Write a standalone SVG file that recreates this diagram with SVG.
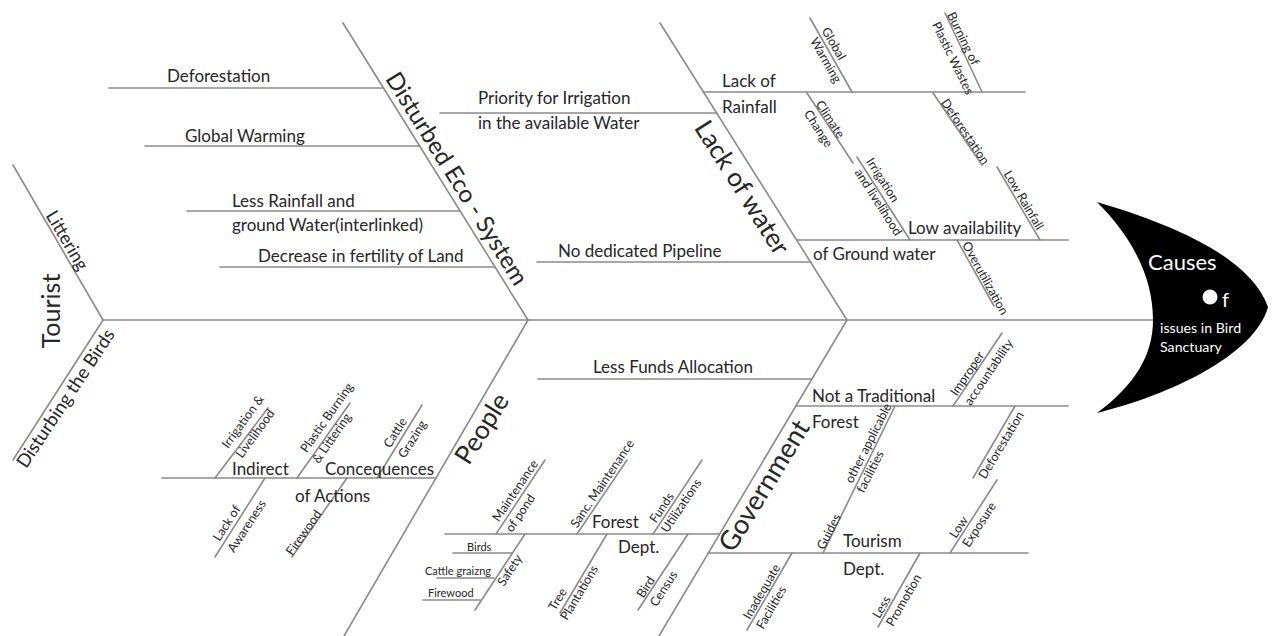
<svg xmlns="http://www.w3.org/2000/svg" width="1278" height="636" viewBox="0 0 1278 636">
<style>
.ln{stroke:#8a8a8a;stroke-width:1.6;fill:none;stroke-linecap:round}
text{font-family:Lato,"Liberation Sans",sans-serif;fill:#262626}
.m{font-size:17px}
.s{font-size:12.5px}
.xs{font-size:11px}
.l{font-size:26px}
.r{text-anchor:middle;dominant-baseline:central}
.w{fill:#fff}
</style>
<rect width="1278" height="636" fill="#fff"/>
<g id="connectors">
<line class="ln" x1="103" y1="320" x2="1153" y2="320"/>
<line class="ln" x1="13" y1="165" x2="103" y2="320"/>
<line class="ln" x1="103" y1="320" x2="13" y2="460"/>
<line class="ln" x1="343" y1="23" x2="528" y2="320"/>
<line class="ln" x1="660" y1="23" x2="847" y2="320"/>
<line class="ln" x1="528" y1="320" x2="344" y2="636"/>
<line class="ln" x1="847" y1="320" x2="659" y2="636"/>
<line class="ln" x1="109" y1="88" x2="383" y2="88"/>
<line class="ln" x1="145" y1="146" x2="420" y2="146"/>
<line class="ln" x1="187" y1="211" x2="460" y2="211"/>
<line class="ln" x1="220" y1="267" x2="495" y2="267"/>
<line class="ln" x1="440" y1="113" x2="717" y2="113"/>
<line class="ln" x1="537" y1="262" x2="811" y2="262"/>
<line class="ln" x1="703" y1="92" x2="1025" y2="92"/>
<line class="ln" x1="797" y1="240" x2="1068" y2="240"/>
<line class="ln" x1="810" y1="18" x2="852" y2="92"/>
<line class="ln" x1="945" y1="13" x2="982" y2="92"/>
<line class="ln" x1="807" y1="93" x2="853" y2="163"/>
<line class="ln" x1="933" y1="93" x2="982" y2="165"/>
<line class="ln" x1="857" y1="157" x2="910" y2="240"/>
<line class="ln" x1="997" y1="167" x2="1040" y2="240"/>
<line class="ln" x1="957" y1="240" x2="994" y2="306"/>
<line class="ln" x1="162" y1="478" x2="436" y2="478"/>
<line class="ln" x1="215" y1="478" x2="268" y2="408"/>
<line class="ln" x1="297" y1="478" x2="350" y2="403"/>
<line class="ln" x1="377" y1="478" x2="422" y2="405"/>
<line class="ln" x1="265" y1="478" x2="215" y2="557"/>
<line class="ln" x1="347" y1="478" x2="292" y2="557"/>
<line class="ln" x1="445" y1="534" x2="719" y2="534"/>
<line class="ln" x1="496" y1="534" x2="545" y2="460"/>
<line class="ln" x1="577" y1="534" x2="627" y2="460"/>
<line class="ln" x1="653" y1="534" x2="702" y2="460"/>
<line class="ln" x1="525" y1="534" x2="475" y2="610"/>
<line class="ln" x1="453" y1="553" x2="512" y2="553"/>
<line class="ln" x1="437" y1="578" x2="494" y2="578"/>
<line class="ln" x1="423" y1="600" x2="480" y2="600"/>
<line class="ln" x1="607" y1="534" x2="560" y2="613"/>
<line class="ln" x1="688" y1="534" x2="638" y2="610"/>
<line class="ln" x1="538" y1="379" x2="812" y2="379"/>
<line class="ln" x1="796" y1="406" x2="1068" y2="406"/>
<line class="ln" x1="953" y1="406" x2="1002" y2="333"/>
<line class="ln" x1="895" y1="406" x2="823" y2="553"/>
<line class="ln" x1="1015" y1="406" x2="973" y2="478"/>
<line class="ln" x1="708" y1="553" x2="1028" y2="553"/>
<line class="ln" x1="950" y1="553" x2="997" y2="480"/>
<line class="ln" x1="792" y1="553" x2="747" y2="630"/>
<line class="ln" x1="920" y1="553" x2="878" y2="627"/>
</g>
<g id="head">
<path d="M1097,202 C1165,222 1250,255 1268,307 C1255,355 1170,395 1097,413 C1135,385 1153,355 1153,320 C1153,280 1135,240 1097,202 Z" fill="#000"/>
<text class="w" x="1148" y="270" font-size="22">Causes</text>
<circle cx="1210" cy="297" r="7.5" fill="#fff"/>
<text class="w" x="1222" y="307" font-size="20">f</text>
<text class="w" x="1160" y="333" font-size="14.2">issues in Bird</text>
<text class="w" x="1160" y="352" font-size="14.2">Sanctuary</text>
</g>
<g id="tourist">
<text class="r" transform="translate(49.5,311) rotate(-90)" font-size="25">Tourist</text>
<text class="r" transform="translate(68,240) rotate(59.5)" font-size="18">Littering</text>
<text class="r" transform="translate(65,398) rotate(-56.5)" font-size="18.5">Disturbing the Birds</text>
</g>
<g id="disturbed-eco-system">
<text class="r l" transform="translate(458,178) rotate(58)" style="font-size:24px">Disturbed Eco - System</text>
<text class="m" x="167" y="82">Deforestation</text>
<text class="m" x="185" y="142">Global Warming</text>
<text class="m" x="232" y="207">Less Rainfall and</text>
<text class="m" x="232" y="231">ground Water(interlinked)</text>
<text class="m" x="258" y="262">Decrease in fertility of Land</text>
</g>
<g id="lack-of-water">
<text class="r l" transform="translate(743,187) rotate(57.6)">Lack of water</text>
<text class="m" x="478" y="104">Priority for Irrigation</text>
<text class="m" x="478" y="129">in the available Water</text>
<text class="m" x="558" y="257">No dedicated Pipeline</text>
<text class="m" x="722" y="87">Lack of</text>
<text class="m" x="722" y="113">Rainfall</text>
<text class="m" x="908" y="234">Low availability</text>
<text class="m" x="813" y="260">of Ground water</text>
<text class="r s" transform="translate(834,43.5) rotate(60)">Global</text>
<text class="r s" transform="translate(826,60) rotate(60)">Warming</text>
<text class="r s" transform="translate(963.5,38.5) rotate(64)">Burning of</text>
<text class="r s" transform="translate(953,58) rotate(64)">Plastic Wastes</text>
<text class="r s" transform="translate(830.5,119) rotate(57)">Climate</text>
<text class="r s" transform="translate(818.5,128.5) rotate(57)">Change</text>
<text class="r s" transform="translate(965.5,131.5) rotate(56)">Deforestation</text>
<text class="r s" transform="translate(883,180) rotate(57.5)">Irrigation</text>
<text class="r s" transform="translate(878.5,202) rotate(57.5)">and livelihood</text>
<text class="r s" transform="translate(1024,200) rotate(59.5)">Low Rainfall</text>
<text class="r s" transform="translate(985.5,278) rotate(61)">Overutilization</text>
</g>
<g id="people">
<text class="r l" transform="translate(481,428) rotate(-58)">People</text>
<text class="m" x="232" y="475">Indirect</text>
<text class="m" x="325" y="475">Concequences</text>
<text class="m" x="295" y="502">of Actions</text>
<text class="r s" transform="translate(242.5,421.5) rotate(-54)">Irrigation &amp;</text>
<text class="r s" transform="translate(255,433.5) rotate(-54)">Livelihood</text>
<text class="r s" transform="translate(326.5,417.5) rotate(-55)">Plastic Burning</text>
<text class="r s" transform="translate(331.5,438) rotate(-55)">&amp; Littering</text>
<text class="r s" transform="translate(395,432.5) rotate(-58)">Cattle</text>
<text class="r s" transform="translate(412,439) rotate(-58)">Grazing</text>
<text class="r s" transform="translate(226.5,523) rotate(-57)">Lack of</text>
<text class="r s" transform="translate(246.5,526) rotate(-57)">Awareness</text>
<text class="r s" transform="translate(303.5,532.5) rotate(-55)">Firewood</text>
</g>
<g id="government">
<text class="r l" transform="translate(763,485) rotate(-58.5)" style="font-size:27px">Government</text>
<text class="m" x="593" y="373">Less Funds Allocation</text>
<text class="m" x="812" y="402">Not a Traditional</text>
<text class="m" x="812" y="428">Forest</text>
<text class="m" x="843" y="547">Tourism</text>
<text class="m" x="843" y="575">Dept.</text>
<text class="r s" transform="translate(967,373.5) rotate(-56)">Improper</text>
<text class="r s" transform="translate(988.5,372) rotate(-56)">accountability</text>
<text class="r s" transform="translate(868,443) rotate(-63)">other applicable</text>
<text class="r s" transform="translate(870,471.5) rotate(-63)">facilities</text>
<text class="r s" transform="translate(828.5,531.5) rotate(-63)">Guides</text>
<text class="r s" transform="translate(1001,445) rotate(-59)">Deforestation</text>
<text class="r s" transform="translate(958.5,527) rotate(-57)">Low</text>
<text class="r s" transform="translate(979,524.5) rotate(-57)">Exposure</text>
<text class="r s" transform="translate(761.5,591.5) rotate(-60)">Inadequate</text>
<text class="r s" transform="translate(771,607.5) rotate(-60)">Facilities</text>
<text class="r s" transform="translate(881.5,607) rotate(-60)">Less</text>
<text class="r s" transform="translate(903.5,600) rotate(-60)">Promotion</text>
</g>
<g id="forest-dept">
<text class="m" x="592" y="528">Forest</text>
<text class="m" x="618" y="553">Dept.</text>
<text class="r s" transform="translate(515,490.5) rotate(-56)">Maintenance</text>
<text class="r s" transform="translate(520,513) rotate(-56)">of pond</text>
<text class="r s" transform="translate(602,483.5) rotate(-56)">Sanc. Maintenance</text>
<text class="r s" transform="translate(661.5,507.5) rotate(-56)">Funds</text>
<text class="r s" transform="translate(681,505.5) rotate(-56)">Utilizations</text>
<text class="r s" transform="translate(509.5,570) rotate(-57)">Safety</text>
<text class="xs" x="467" y="551">Birds</text>
<text class="xs" x="425" y="575">Cattle graizng</text>
<text class="xs" x="428" y="597">Firewood</text>
<text class="r s" transform="translate(557.5,599) rotate(-59)">Tree</text>
<text class="r s" transform="translate(579,592.5) rotate(-59)">Plantations</text>
<text class="r s" transform="translate(645.5,587) rotate(-57)">Bird</text>
<text class="r s" transform="translate(663.5,588.5) rotate(-57)">Census</text>
</g>
</svg>
